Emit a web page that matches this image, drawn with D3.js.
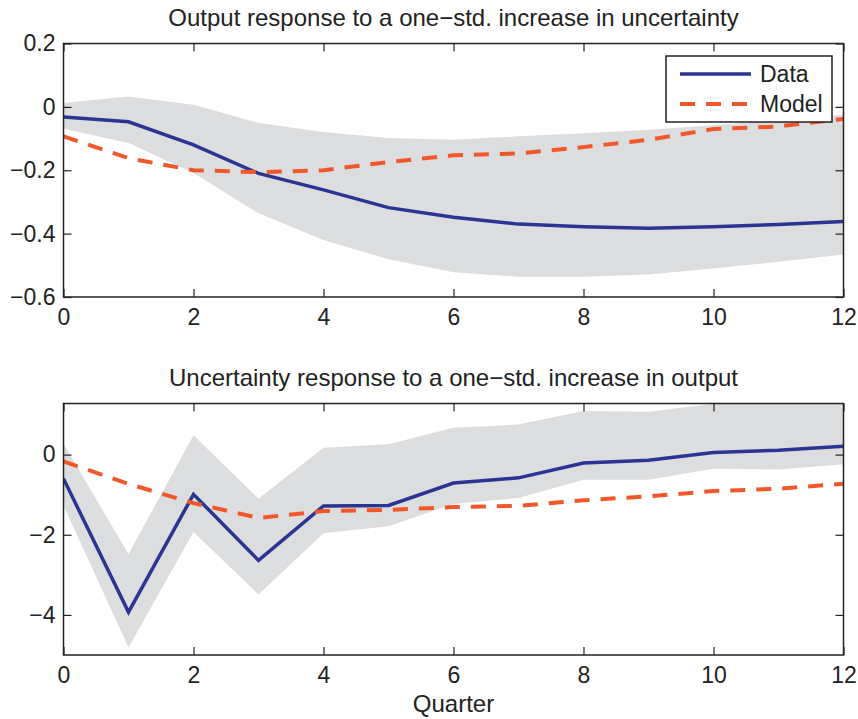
<!DOCTYPE html>
<html lang="en">
<head>
    <meta charset="UTF-8">
    <script src="https://cdn.jsdelivr.net/npm/d3@7"></script>
    <title>Impulse responses</title>
    <style>
        body { margin: 0; background: #fff; }
        text { font-family: "Liberation Sans", Arial, sans-serif; fill: #222; }
    </style>
</head>
<body>
    <svg id="chart" width="858" height="719"></svg>

    <script>
        // quarters 0..12
        const quarters = [0, 1, 2, 3, 4, 5, 6, 7, 8, 9, 10, 11, 12];
        const xTicks = [0, 2, 4, 6, 8, 10, 12];

        // top panel: output response to uncertainty
        const outData  = [-0.032, -0.047, -0.12, -0.21, -0.262, -0.318, -0.348, -0.37, -0.378, -0.383, -0.378, -0.371, -0.362];
        const outModel = [-0.093, -0.162, -0.20, -0.206, -0.20, -0.174, -0.153, -0.147, -0.127, -0.104, -0.07, -0.062, -0.038];
        const outUpper = [0.012, 0.033, 0.007, -0.051, -0.079, -0.098, -0.104, -0.093, -0.083, -0.072, -0.058, -0.042, -0.025];
        const outLower = [-0.069, -0.114, -0.209, -0.336, -0.42, -0.481, -0.522, -0.536, -0.536, -0.529, -0.51, -0.489, -0.466];
        const outTicks = [0.2, 0, -0.2, -0.4, -0.6];

        // bottom panel: uncertainty response to output
        const uncData  = [-0.6, -3.93, -0.99, -2.64, -1.28, -1.27, -0.71, -0.58, -0.21, -0.14, 0.05, 0.11, 0.21];
        const uncModel = [-0.17, -0.73, -1.21, -1.58, -1.41, -1.38, -1.31, -1.28, -1.14, -1.04, -0.91, -0.85, -0.73];
        const uncUpper = [0.27, -2.48, 0.48, -1.1, 0.17, 0.26, 0.67, 0.75, 1.09, 1.07, 1.27, 1.3, 1.33];
        const uncLower = [-1.27, -4.81, -1.93, -3.49, -1.96, -1.79, -1.23, -1.08, -0.63, -0.63, -0.35, -0.37, -0.24];
        const uncTicks = [0, -2, -4];

        const blue = '#2a3592', orange = '#f2572a', band = '#dcdddf';
        const svg = d3.select('#chart');

        function panel(opt) {
            const x = d3.scaleLinear().domain([0, 12]).range([63.5, 843.5]);
            const y = d3.scaleLinear().domain(opt.domain).range([opt.bottom, opt.top]);
            const g = svg.append('g');

            g.append('clipPath').attr('id', opt.id)
                .append('rect')
                .attr('x', x(0)).attr('y', opt.top)
                .attr('width', x(12) - x(0)).attr('height', opt.bottom - opt.top);

            const plot = g.append('g').attr('clip-path', 'url(#' + opt.id + ')');

            const area = d3.area()
                .x((d, i) => x(quarters[i]))
                .y0((d, i) => y(opt.lower[i]))
                .y1(d => y(d));
            plot.append('path').datum(opt.upper)
                .attr('d', area).attr('fill', band);

            const line = d3.line().x((d, i) => x(quarters[i])).y(d => y(d));
            plot.append('path').datum(opt.data)
                .attr('d', line).attr('fill', 'none')
                .attr('stroke', blue).attr('stroke-width', 3.5);
            plot.append('path').datum(opt.model)
                .attr('d', line).attr('fill', 'none')
                .attr('stroke', orange).attr('stroke-width', 4)
                .attr('stroke-dasharray', '15,11');

            // axes with inward ticks on all four sides
            const axisStyle = a => {
                a.selectAll('.domain').remove();
                a.selectAll('line').attr('stroke', '#222').attr('stroke-width', 1.2);
                a.selectAll('text').style('font-size', '23px')
                    .style('font-family', '"Liberation Sans", Arial, sans-serif').attr('fill', '#222');
            };
            const fmt = d => d < 0 ? '\u2212' + Math.abs(d) : String(d);

            g.append('g').attr('transform', 'translate(0,' + opt.bottom + ')')
                .call(d3.axisBottom(x).tickValues(xTicks).tickSize(-8).tickPadding(12).tickFormat(fmt))
                .call(axisStyle);
            g.append('g').attr('transform', 'translate(0,' + opt.top + ')')
                .call(d3.axisTop(x).tickValues(xTicks).tickSize(-8).tickFormat(''))
                .call(axisStyle);
            g.append('g').attr('transform', 'translate(' + x(0) + ',0)')
                .call(d3.axisLeft(y).tickValues(opt.ticks).tickSize(-8).tickPadding(8).tickFormat(fmt))
                .call(axisStyle);
            g.append('g').attr('transform', 'translate(' + x(12) + ',0)')
                .call(d3.axisRight(y).tickValues(opt.ticks).tickSize(-8).tickFormat(''))
                .call(axisStyle);

            g.append('rect')
                .attr('x', x(0)).attr('y', opt.top)
                .attr('width', x(12) - x(0)).attr('height', opt.bottom - opt.top)
                .attr('fill', 'none').attr('stroke', '#222').attr('stroke-width', 1.5);

            g.append('text')
                .attr('x', (x(0) + x(12)) / 2).attr('y', opt.top - 18)
                .attr('text-anchor', 'middle').style('font-size', '24px')
                .text(opt.title);

            return { x, y, g };
        }

        const topPanel = panel({
            id: 'clipTop', top: 43.5, bottom: 297, domain: [-0.6, 0.2],
            data: outData, model: outModel, upper: outUpper, lower: outLower, ticks: outTicks,
            title: 'Output response to a one\u2212std. increase in uncertainty'
        });

        const bottomPanel = panel({
            id: 'clipBottom', top: 403.5, bottom: 655, domain: [-5, 1.275],
            data: uncData, model: uncModel, upper: uncUpper, lower: uncLower, ticks: uncTicks,
            title: 'Uncertainty response to a one\u2212std. increase in output'
        });

        svg.append('text')
            .attr('x', (bottomPanel.x(0) + bottomPanel.x(12)) / 2).attr('y', 712)
            .attr('text-anchor', 'middle').style('font-size', '24px')
            .text('Quarter');

        // legend
        const legend = svg.append('g').attr('transform', 'translate(666,56)');
        legend.append('rect').attr('width', 166).attr('height', 66)
            .attr('fill', '#fff').attr('stroke', '#222').attr('stroke-width', 1.5);
        const items = [
            { name: 'Data', color: blue, dash: null, width: 3.5 },
            { name: 'Model', color: orange, dash: '15,11', width: 4 }
        ];
        items.forEach((d, i) => {
            const yy = 18 + i * 30;
            legend.append('line')
                .attr('x1', 14).attr('x2', 85).attr('y1', yy).attr('y2', yy)
                .attr('stroke', d.color).attr('stroke-width', d.width)
                .attr('stroke-dasharray', d.dash);
            legend.append('text')
                .attr('x', 94).attr('y', yy + 8)
                .style('font-size', '23px')
                .text(d.name);
        });
    </script>
</body>
</html>
